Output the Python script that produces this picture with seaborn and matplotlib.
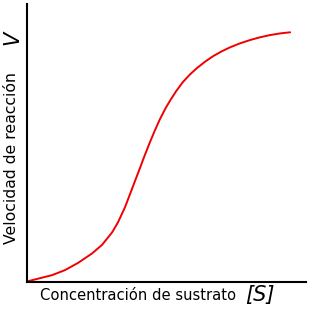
import matplotlib
matplotlib.use("Agg")
import matplotlib.pyplot as plt
import seaborn as sns
import pandas as pd

# Values (arbitrary units)
substrate = [0.0, 0.39, 0.90, 1.36, 1.83, 2.33, 2.69, 3.05, 3.26, 3.51,
             3.75, 3.87, 4.05, 4.19, 4.41, 4.59, 4.77, 4.98, 5.13, 5.34,
             5.59, 5.84, 6.09, 6.38, 6.67, 6.99, 7.28, 7.63, 7.99, 8.35,
             8.71, 9.07, 9.43]
velocity = [0.0, 0.10, 0.23, 0.41, 0.67, 1.01, 1.32, 1.77, 2.13, 2.67,
            3.30, 3.62, 4.09, 4.47, 5.03, 5.46, 5.86, 6.27, 6.52, 6.85,
            7.19, 7.46, 7.69, 7.92, 8.12, 8.30, 8.44, 8.58, 8.70, 8.80,
            8.88, 8.94, 8.98]

x_label = "Concentración de sustrato"
x_symbol = "[S]"
y_label = "Velocidad de reacción"
y_symbol = "V"

sns.set_theme(style="white")
plt.rcParams['font.family'] = ['DejaVu Sans']

df = pd.DataFrame({"S": substrate, "V": velocity})

fig = plt.figure(figsize=(3.30, 3.25), dpi=100)
ax = fig.add_axes([27/330, (325-281.5)/325, (306-27)/330, (281.5-4)/325])
sns.lineplot(data=df, x="S", y="V", ax=ax, color="#f00000", linewidth=1.4)
ax.lines[0].set_solid_joinstyle("round")
ax.set_xlim(0, 10)
ax.set_ylim(0, 10)
ax.set_xticks([])
ax.set_yticks([])
ax.set_xlabel("")
ax.set_ylabel("")
for s in ["top", "right"]:
    ax.spines[s].set_visible(False)
for s in ["left", "bottom"]:
    ax.spines[s].set_color("black")
    ax.spines[s].set_linewidth(1.5)

fig.text(40/330, 1 - 296/325, x_label, fontsize=10.6, ha="left", va="center", color="black")
fig.text(245/330, 1 - 295/325, x_symbol, fontsize=15, style="italic", ha="left", va="center", color="black")
fig.text(12/330, 1 - 244/325, y_label, fontsize=11.3, rotation=90, ha="center", va="bottom", color="black")
fig.text(12/330, 1 - 31/325, y_symbol, fontsize=15, style="italic", rotation=90, ha="center", va="top", color="black")

fig.savefig("out.png", dpi=100)
